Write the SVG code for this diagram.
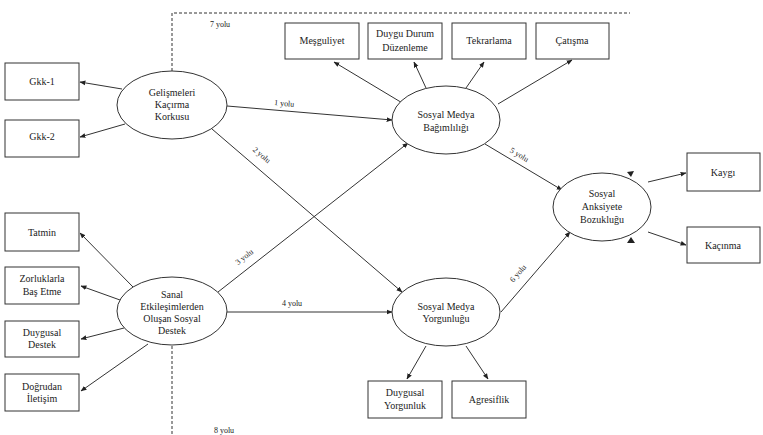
<svg xmlns="http://www.w3.org/2000/svg" width="763" height="435" viewBox="0 0 763 435">
<defs>
<marker id="ah" viewBox="0 0 10 10" refX="9" refY="5" markerWidth="6" markerHeight="6" orient="auto" markerUnits="userSpaceOnUse">
<path d="M0,1 L10,5 L0,9 z" fill="#222"/>
</marker>
<style>
.box{fill:#fff;stroke:#333;stroke-width:1}
.ell{fill:#fff;stroke:#333;stroke-width:1}
.t{font-family:'Liberation Serif','DejaVu Serif',serif;font-size:10px;fill:#222;text-anchor:middle}
.lb{font-family:'Liberation Serif','DejaVu Serif',serif;font-size:8px;fill:#222;text-anchor:middle}
.c{stroke:#333;stroke-width:1;fill:none;marker-end:url(#ah)}
.d{stroke:#333;stroke-width:1;fill:none;stroke-dasharray:3,2}
</style>
</defs>
<rect width="763" height="435" fill="#fff"/>
<g id="connectors">
<polyline class="d" points="172,71 172,13 630,13"/>
<line class="d" x1="172" y1="346" x2="172" y2="435"/>
<line class="c" x1="122" y1="89" x2="80" y2="82"/>
<line class="c" x1="125" y1="124" x2="80" y2="137"/>
<line class="c" x1="227" y1="106" x2="392" y2="120"/>
<line class="c" x1="212" y1="129" x2="402" y2="292"/>
<line class="c" x1="218" y1="292" x2="408" y2="143"/>
<line class="c" x1="227" y1="312" x2="392" y2="312"/>
<line class="c" x1="485" y1="144" x2="562" y2="190"/>
<line class="c" x1="501" y1="312" x2="570" y2="232"/>
<line class="c" x1="404" y1="104" x2="334" y2="62"/>
<line class="c" x1="426" y1="88" x2="414" y2="62"/>
<line class="c" x1="466" y1="88" x2="484" y2="62"/>
<line class="c" x1="498" y1="104" x2="572" y2="60"/>
<line class="c" x1="648" y1="182" x2="686" y2="173"/>
<line class="c" x1="648" y1="232" x2="686" y2="245"/>
<line class="c" x1="426" y1="346" x2="407" y2="379"/>
<line class="c" x1="466" y1="346" x2="488" y2="379"/>
<line class="c" x1="133" y1="287" x2="80" y2="233"/>
<line class="c" x1="120" y1="300" x2="81" y2="286"/>
<line class="c" x1="124" y1="328" x2="81" y2="339"/>
<line class="c" x1="148" y1="344" x2="81" y2="391"/>
<path d="M627,172 L634,171 L631,177 z" fill="#222"/>
<path d="M627,243 L635,243 L631,237 z" fill="#222"/>
<text class="lb" x="220" y="27">7 yolu</text>
<text class="lb" x="224" y="433">8 yolu</text>
<text class="lb" x="284" y="106" transform="rotate(5 284 106)">1 yolu</text>
<text class="lb" x="260" y="157" transform="rotate(40 260 157)">2 yolu</text>
<text class="lb" x="246" y="259" transform="rotate(-38 246 259)">3 yolu</text>
<text class="lb" x="292" y="306">4 yolu</text>
<text class="lb" x="518" y="157" transform="rotate(31 518 157)">5 yolu</text>
<text class="lb" x="520" y="275" transform="rotate(-49 520 275)">6 yolu</text>
</g>

<g id="gkk1"><rect class="box" x="5" y="63" width="74" height="37"/><text class="t" x="42" y="85">Gkk-1</text></g>
<g id="gkk2"><rect class="box" x="5" y="120" width="74" height="37"/><text class="t" x="42" y="140">Gkk-2</text></g>
<g id="tatmin"><rect class="box" x="5" y="213" width="74" height="38"/><text class="t" x="42" y="236">Tatmin</text></g>
<g id="zorluklarla"><rect class="box" x="5" y="267" width="74" height="37"/><text class="t" x="42" y="282">Zorluklarla</text><text class="t" x="42" y="295">Baş Etme</text></g>
<g id="duygusal-destek"><rect class="box" x="5" y="321" width="74" height="36"/><text class="t" x="42" y="336">Duygusal</text><text class="t" x="42" y="348">Destek</text></g>
<g id="dogrudan"><rect class="box" x="5" y="374" width="74" height="37"/><text class="t" x="42" y="390">Doğrudan</text><text class="t" x="42" y="402">İletişim</text></g>

<g id="mesguliyet"><rect class="box" x="285" y="23" width="74" height="36"/><text class="t" x="322" y="44">Meşguliyet</text></g>
<g id="duygu-durum"><rect class="box" x="368" y="23" width="74" height="36"/><text class="t" x="405" y="37">Duygu Durum</text><text class="t" x="405" y="51">Düzenleme</text></g>
<g id="tekrarlama"><rect class="box" x="452" y="23" width="74" height="36"/><text class="t" x="489" y="44">Tekrarlama</text></g>
<g id="catisma"><rect class="box" x="536" y="23" width="73" height="36"/><text class="t" x="572" y="44">Çatışma</text></g>

<g id="kaygi"><rect class="box" x="687" y="153" width="73" height="38"/><text class="t" x="723" y="176">Kaygı</text></g>
<g id="kacinma"><rect class="box" x="687" y="227" width="73" height="36"/><text class="t" x="723" y="249">Kaçınma</text></g>

<g id="duygusal-yorgunluk"><rect class="box" x="368" y="381" width="74" height="37"/><text class="t" x="405" y="396">Duygusal</text><text class="t" x="405" y="409">Yorgunluk</text></g>
<g id="agresiflik"><rect class="box" x="452" y="381" width="74" height="37"/><text class="t" x="489" y="403">Agresiflik</text></g>

<g id="gelismeleri"><ellipse class="ell" cx="172" cy="105" rx="55" ry="34"/><text class="t" x="172" y="96">Gelişmeleri</text><text class="t" x="172" y="108">Kaçırma</text><text class="t" x="172" y="120">Korkusu</text></g>
<g id="sanal"><ellipse class="ell" cx="172" cy="311" rx="55" ry="34"/><text class="t" x="172" y="298">Sanal</text><text class="t" x="172" y="310">Etkileşimlerden</text><text class="t" x="172" y="322">Oluşan  Sosyal</text><text class="t" x="172" y="334">Destek</text></g>
<g id="smb"><ellipse class="ell" cx="446" cy="120" rx="54" ry="34"/><text class="t" x="446" y="118">Sosyal  Medya</text><text class="t" x="446" y="131">Bağımlılığı</text></g>
<g id="smy"><ellipse class="ell" cx="446" cy="312" rx="54" ry="34"/><text class="t" x="446" y="310">Sosyal  Medya</text><text class="t" x="446" y="322">Yorgunluğu</text></g>
<g id="sab"><ellipse class="ell" cx="602" cy="207" rx="49" ry="34"/><text class="t" x="602" y="197">Sosyal</text><text class="t" x="602" y="210">Anksiyete</text><text class="t" x="602" y="223">Bozukluğu</text></g>
</svg>
